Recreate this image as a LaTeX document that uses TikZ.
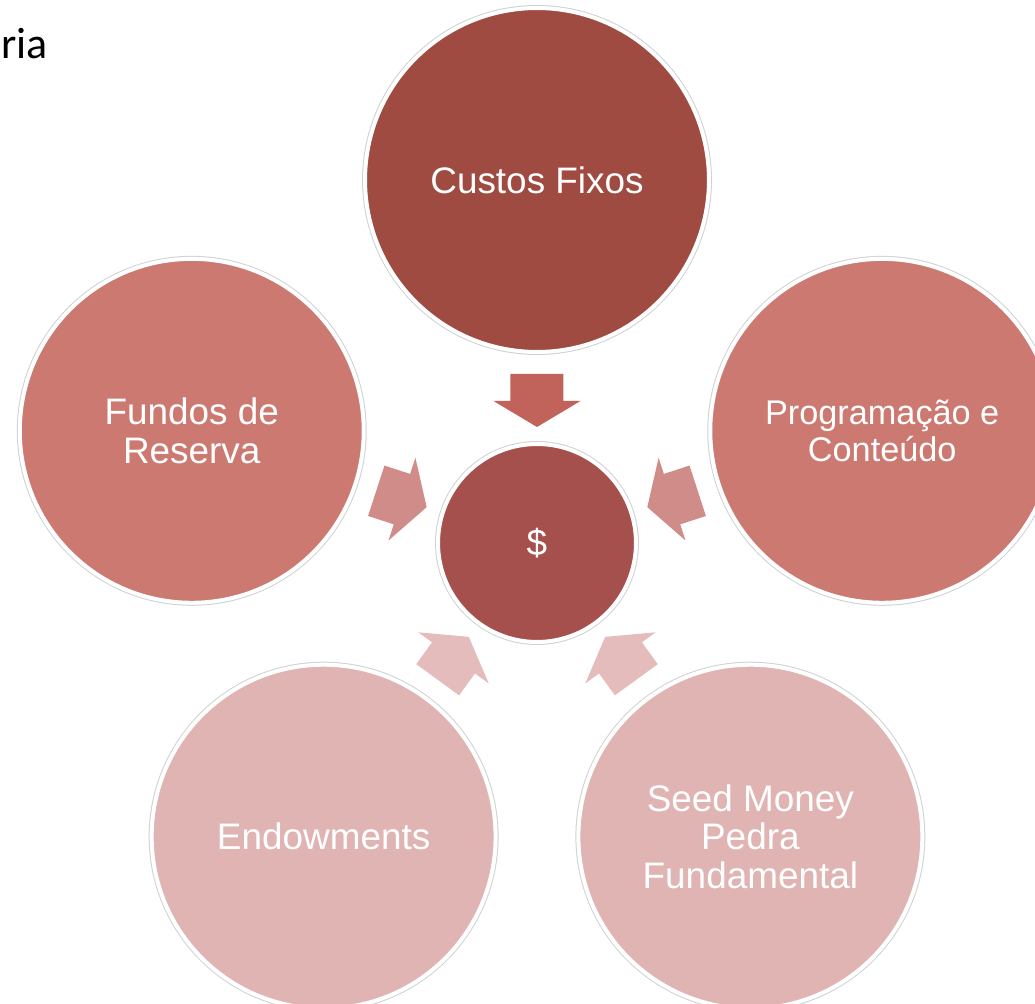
\documentclass[tikz,border=0pt]{standalone}
\usepackage{fontspec}
\setmainfont{Liberation Sans}
\newfontfamily\calibrifont{Carlito}
\usepackage{tikz}
\usetikzlibrary{positioning}

\definecolor{topred}{HTML}{9F4B41}
\definecolor{hubred}{HTML}{A6504D}
\definecolor{midred}{HTML}{CB7971}
\definecolor{lowpink}{HTML}{E0B4B3}
\definecolor{toparrow}{HTML}{C2635B}
\definecolor{midarrow}{HTML}{D08C89}
\definecolor{lowarrow}{HTML}{E4BCBB}

\tikzset{
  bubble/.style = {circle, draw=white, line width=0.08cm,
    preaction={draw=black!18, line width=0.12cm},
    text=white, align=center, inner sep=0pt,
    font=\fontsize{21}{22}\selectfont},
  outer/.style = {bubble, minimum size=6.88cm},
  hub/.style = {bubble, minimum size=3.96cm, fill=hubred}
}

\begin{document}
\begin{tikzpicture}[x=0.02cm, y=0.02cm]
\useasboundingbox (-537,-461) rectangle (498,543);

\node[anchor=base west, inner sep=0pt, font=\calibrifont\fontsize{25}{28}\selectfont]
  (ria) at (-536,484) {ria};

\node[hub] (hub) at (0,0) {\$};
\node[outer, fill=topred] (custos) at (90:363) {Custos Fixos};
\node[outer, fill=midred] (fundos) at (162:363) {Fundos de\\Reserva};
\node[outer, fill=midred, font=\fontsize{19.5}{21.5}\selectfont] (prog) at (18:363) {Programação e\\Conteúdo};
\node[outer, fill=lowpink] (endow) at (234:363) {Endowments};
\node[outer, fill=lowpink] (seed) at (306:363) {Seed Money\\Pedra\\Fundamental};

% block arrows towards the hub
\foreach \ang/\col in {90/toparrow, 162/midarrow, 18/midarrow, 234/lowarrow, 306/lowarrow}
  \fill[\col, shift={(hub.center)}, rotate=\ang]
    (169,26.5) -- (142,26.5) -- (142,43.5) -- (116,0)
    -- (142,-43.5) -- (142,-26.5) -- (169,-26.5) -- cycle;
\end{tikzpicture}
\end{document}
